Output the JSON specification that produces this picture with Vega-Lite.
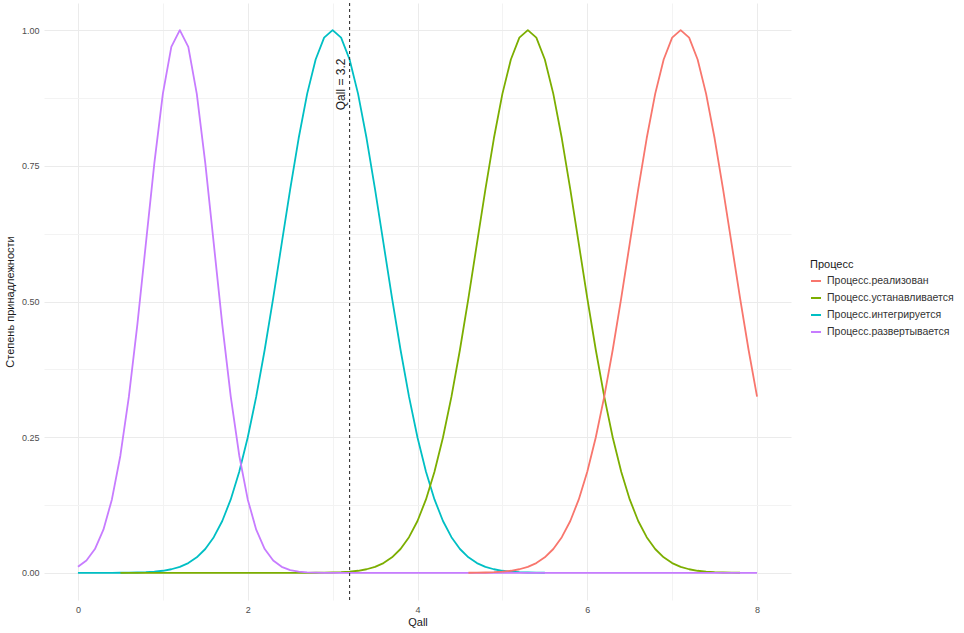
{
  "$schema": "https://vega.github.io/schema/vega-lite/v6.json",
  "width": 747,
  "height": 597,
  "autosize": {"type": "none"},
  "padding": {"left": 44, "top": 3, "right": 173, "bottom": 33},
  "background": "white",
  "config": {
    "view": {"stroke": null},
    "font": "Liberation Sans",
    "axis": {
      "ticks": false,
      "domain": false,
      "labelFontSize": 9,
      "labelColor": "#4D4D4D",
      "titleFontSize": 11,
      "titleFontWeight": "normal",
      "titleColor": "#1a1a1a"
    }
  },
  "datasets": {
    "curves": [
      {"s":"Процесс.интегрируется","x":0,"y":0},
      {"s":"Процесс.интегрируется","x":0.1,"y":0.00001},
      {"s":"Процесс.интегрируется","x":0.2,"y":0.00002},
      {"s":"Процесс.интегрируется","x":0.3,"y":0.00004},
      {"s":"Процесс.интегрируется","x":0.4,"y":0.00008},
      {"s":"Процесс.интегрируется","x":0.5,"y":0.00017},
      {"s":"Процесс.интегрируется","x":0.6,"y":0.00034},
      {"s":"Процесс.интегрируется","x":0.7,"y":0.00064},
      {"s":"Процесс.интегрируется","x":0.8,"y":0.0012},
      {"s":"Процесс.интегрируется","x":0.9,"y":0.00219},
      {"s":"Процесс.интегрируется","x":1.0,"y":0.00387},
      {"s":"Процесс.интегрируется","x":1.1,"y":0.00665},
      {"s":"Процесс.интегрируется","x":1.2,"y":0.01111},
      {"s":"Процесс.интегрируется","x":1.3,"y":0.01807},
      {"s":"Процесс.интегрируется","x":1.4,"y":0.02857},
      {"s":"Процесс.интегрируется","x":1.5,"y":0.04394},
      {"s":"Процесс.интегрируется","x":1.6,"y":0.06571},
      {"s":"Процесс.интегрируется","x":1.7,"y":0.09563},
      {"s":"Процесс.интегрируется","x":1.8,"y":0.13534},
      {"s":"Процесс.интегрируется","x":1.9,"y":0.18628},
      {"s":"Процесс.интегрируется","x":2.0,"y":0.24935},
      {"s":"Процесс.интегрируется","x":2.1,"y":0.32465},
      {"s":"Процесс.интегрируется","x":2.2,"y":0.41111},
      {"s":"Процесс.интегрируется","x":2.3,"y":0.50633},
      {"s":"Процесс.интегрируется","x":2.4,"y":0.60653},
      {"s":"Процесс.интегрируется","x":2.5,"y":0.70664},
      {"s":"Процесс.интегрируется","x":2.6,"y":0.80074},
      {"s":"Процесс.интегрируется","x":2.7,"y":0.8825},
      {"s":"Процесс.интегрируется","x":2.8,"y":0.94596},
      {"s":"Процесс.интегрируется","x":2.9,"y":0.98621},
      {"s":"Процесс.интегрируется","x":3.0,"y":1},
      {"s":"Процесс.интегрируется","x":3.1,"y":0.98621},
      {"s":"Процесс.интегрируется","x":3.2,"y":0.94596},
      {"s":"Процесс.интегрируется","x":3.3,"y":0.8825},
      {"s":"Процесс.интегрируется","x":3.4,"y":0.80074},
      {"s":"Процесс.интегрируется","x":3.5,"y":0.70664},
      {"s":"Процесс.интегрируется","x":3.6,"y":0.60653},
      {"s":"Процесс.интегрируется","x":3.7,"y":0.50633},
      {"s":"Процесс.интегрируется","x":3.8,"y":0.41111},
      {"s":"Процесс.интегрируется","x":3.9,"y":0.32465},
      {"s":"Процесс.интегрируется","x":4.0,"y":0.24935},
      {"s":"Процесс.интегрируется","x":4.1,"y":0.18628},
      {"s":"Процесс.интегрируется","x":4.2,"y":0.13534},
      {"s":"Процесс.интегрируется","x":4.3,"y":0.09563},
      {"s":"Процесс.интегрируется","x":4.4,"y":0.06571},
      {"s":"Процесс.интегрируется","x":4.5,"y":0.04394},
      {"s":"Процесс.интегрируется","x":4.6,"y":0.02857},
      {"s":"Процесс.интегрируется","x":4.7,"y":0.01807},
      {"s":"Процесс.интегрируется","x":4.8,"y":0.01111},
      {"s":"Процесс.интегрируется","x":4.9,"y":0.00665},
      {"s":"Процесс.интегрируется","x":5.0,"y":0.00387},
      {"s":"Процесс.интегрируется","x":5.1,"y":0.00219},
      {"s":"Процесс.интегрируется","x":5.2,"y":0.0012},
      {"s":"Процесс.интегрируется","x":5.3,"y":0.00064},
      {"s":"Процесс.интегрируется","x":5.4,"y":0.00034},
      {"s":"Процесс.интегрируется","x":5.5,"y":0.00017},

      {"s":"Процесс.устанавливается","x":0.5,"y":0},
      {"s":"Процесс.устанавливается","x":0.6,"y":0},
      {"s":"Процесс.устанавливается","x":0.7,"y":0},
      {"s":"Процесс.устанавливается","x":0.8,"y":0},
      {"s":"Процесс.устанавливается","x":0.9,"y":0},
      {"s":"Процесс.устанавливается","x":1.0,"y":0},
      {"s":"Процесс.устанавливается","x":1.1,"y":0},
      {"s":"Процесс.устанавливается","x":1.2,"y":0},
      {"s":"Процесс.устанавливается","x":1.3,"y":0},
      {"s":"Процесс.устанавливается","x":1.4,"y":0},
      {"s":"Процесс.устанавливается","x":1.5,"y":0},
      {"s":"Процесс.устанавливается","x":1.6,"y":0},
      {"s":"Процесс.устанавливается","x":1.7,"y":0},
      {"s":"Процесс.устанавливается","x":1.8,"y":0},
      {"s":"Процесс.устанавливается","x":1.9,"y":0},
      {"s":"Процесс.устанавливается","x":2.0,"y":0},
      {"s":"Процесс.устанавливается","x":2.1,"y":0},
      {"s":"Процесс.устанавливается","x":2.2,"y":0},
      {"s":"Процесс.устанавливается","x":2.3,"y":0},
      {"s":"Процесс.устанавливается","x":2.4,"y":0},
      {"s":"Процесс.устанавливается","x":2.5,"y":0.00002},
      {"s":"Процесс.устанавливается","x":2.6,"y":0.00004},
      {"s":"Процесс.устанавливается","x":2.7,"y":0.00008},
      {"s":"Процесс.устанавливается","x":2.8,"y":0.00017},
      {"s":"Процесс.устанавливается","x":2.9,"y":0.00034},
      {"s":"Процесс.устанавливается","x":3.0,"y":0.00064},
      {"s":"Процесс.устанавливается","x":3.1,"y":0.0012},
      {"s":"Процесс.устанавливается","x":3.2,"y":0.00219},
      {"s":"Процесс.устанавливается","x":3.3,"y":0.00387},
      {"s":"Процесс.устанавливается","x":3.4,"y":0.00665},
      {"s":"Процесс.устанавливается","x":3.5,"y":0.01111},
      {"s":"Процесс.устанавливается","x":3.6,"y":0.01807},
      {"s":"Процесс.устанавливается","x":3.7,"y":0.02857},
      {"s":"Процесс.устанавливается","x":3.8,"y":0.04394},
      {"s":"Процесс.устанавливается","x":3.9,"y":0.06571},
      {"s":"Процесс.устанавливается","x":4.0,"y":0.09563},
      {"s":"Процесс.устанавливается","x":4.1,"y":0.13534},
      {"s":"Процесс.устанавливается","x":4.2,"y":0.18628},
      {"s":"Процесс.устанавливается","x":4.3,"y":0.24935},
      {"s":"Процесс.устанавливается","x":4.4,"y":0.32465},
      {"s":"Процесс.устанавливается","x":4.5,"y":0.41111},
      {"s":"Процесс.устанавливается","x":4.6,"y":0.50633},
      {"s":"Процесс.устанавливается","x":4.7,"y":0.60653},
      {"s":"Процесс.устанавливается","x":4.8,"y":0.70664},
      {"s":"Процесс.устанавливается","x":4.9,"y":0.80074},
      {"s":"Процесс.устанавливается","x":5.0,"y":0.8825},
      {"s":"Процесс.устанавливается","x":5.1,"y":0.94596},
      {"s":"Процесс.устанавливается","x":5.2,"y":0.98621},
      {"s":"Процесс.устанавливается","x":5.3,"y":1},
      {"s":"Процесс.устанавливается","x":5.4,"y":0.98621},
      {"s":"Процесс.устанавливается","x":5.5,"y":0.94596},
      {"s":"Процесс.устанавливается","x":5.6,"y":0.8825},
      {"s":"Процесс.устанавливается","x":5.7,"y":0.80074},
      {"s":"Процесс.устанавливается","x":5.8,"y":0.70664},
      {"s":"Процесс.устанавливается","x":5.9,"y":0.60653},
      {"s":"Процесс.устанавливается","x":6.0,"y":0.50633},
      {"s":"Процесс.устанавливается","x":6.1,"y":0.41111},
      {"s":"Процесс.устанавливается","x":6.2,"y":0.32465},
      {"s":"Процесс.устанавливается","x":6.3,"y":0.24935},
      {"s":"Процесс.устанавливается","x":6.4,"y":0.18628},
      {"s":"Процесс.устанавливается","x":6.5,"y":0.13534},
      {"s":"Процесс.устанавливается","x":6.6,"y":0.09563},
      {"s":"Процесс.устанавливается","x":6.7,"y":0.06571},
      {"s":"Процесс.устанавливается","x":6.8,"y":0.04394},
      {"s":"Процесс.устанавливается","x":6.9,"y":0.02857},
      {"s":"Процесс.устанавливается","x":7.0,"y":0.01807},
      {"s":"Процесс.устанавливается","x":7.1,"y":0.01111},
      {"s":"Процесс.устанавливается","x":7.2,"y":0.00665},
      {"s":"Процесс.устанавливается","x":7.3,"y":0.00387},
      {"s":"Процесс.устанавливается","x":7.4,"y":0.00219},
      {"s":"Процесс.устанавливается","x":7.5,"y":0.0012},
      {"s":"Процесс.устанавливается","x":7.6,"y":0.00064},
      {"s":"Процесс.устанавливается","x":7.7,"y":0.00034},
      {"s":"Процесс.устанавливается","x":7.8,"y":0.00017},

      {"s":"Процесс.развертывается","x":0,"y":0.01111},
      {"s":"Процесс.развертывается","x":0.1,"y":0.02279},
      {"s":"Процесс.развертывается","x":0.2,"y":0.04394},
      {"s":"Процесс.развертывается","x":0.3,"y":0.07956},
      {"s":"Процесс.развертывается","x":0.4,"y":0.13534},
      {"s":"Процесс.развертывается","x":0.5,"y":0.21627},
      {"s":"Процесс.развертывается","x":0.6,"y":0.32465},
      {"s":"Процесс.развертывается","x":0.7,"y":0.45783},
      {"s":"Процесс.развертывается","x":0.8,"y":0.60653},
      {"s":"Процесс.развертывается","x":0.9,"y":0.75484},
      {"s":"Процесс.развертывается","x":1.0,"y":0.8825},
      {"s":"Процесс.развертывается","x":1.1,"y":0.96923},
      {"s":"Процесс.развертывается","x":1.2,"y":1},
      {"s":"Процесс.развертывается","x":1.3,"y":0.96923},
      {"s":"Процесс.развертывается","x":1.4,"y":0.8825},
      {"s":"Процесс.развертывается","x":1.5,"y":0.75484},
      {"s":"Процесс.развертывается","x":1.6,"y":0.60653},
      {"s":"Процесс.развертывается","x":1.7,"y":0.45783},
      {"s":"Процесс.развертывается","x":1.8,"y":0.32465},
      {"s":"Процесс.развертывается","x":1.9,"y":0.21627},
      {"s":"Процесс.развертывается","x":2.0,"y":0.13534},
      {"s":"Процесс.развертывается","x":2.1,"y":0.07956},
      {"s":"Процесс.развертывается","x":2.2,"y":0.04394},
      {"s":"Процесс.развертывается","x":2.3,"y":0.02279},
      {"s":"Процесс.развертывается","x":2.4,"y":0.01111},
      {"s":"Процесс.развертывается","x":2.5,"y":0.00509},
      {"s":"Процесс.развертывается","x":2.6,"y":0.00219},
      {"s":"Процесс.развертывается","x":2.7,"y":0.00088},
      {"s":"Процесс.развертывается","x":2.8,"y":0.00034},
      {"s":"Процесс.развертывается","x":2.9,"y":0.00012},
      {"s":"Процесс.развертывается","x":3.0,"y":0.00004},
      {"s":"Процесс.развертывается","x":3.1,"y":0.00001},
      {"s":"Процесс.развертывается","x":3.2,"y":0},
      {"s":"Процесс.развертывается","x":3.3,"y":0},
      {"s":"Процесс.развертывается","x":3.4,"y":0},
      {"s":"Процесс.развертывается","x":3.5,"y":0},
      {"s":"Процесс.развертывается","x":3.6,"y":0},
      {"s":"Процесс.развертывается","x":3.7,"y":0},
      {"s":"Процесс.развертывается","x":3.8,"y":0},
      {"s":"Процесс.развертывается","x":3.9,"y":0},
      {"s":"Процесс.развертывается","x":4.0,"y":0},
      {"s":"Процесс.развертывается","x":4.1,"y":0},
      {"s":"Процесс.развертывается","x":4.2,"y":0},
      {"s":"Процесс.развертывается","x":4.3,"y":0},
      {"s":"Процесс.развертывается","x":4.4,"y":0},
      {"s":"Процесс.развертывается","x":4.5,"y":0},
      {"s":"Процесс.развертывается","x":4.6,"y":0},
      {"s":"Процесс.развертывается","x":4.7,"y":0},
      {"s":"Процесс.развертывается","x":4.8,"y":0},
      {"s":"Процесс.развертывается","x":4.9,"y":0},
      {"s":"Процесс.развертывается","x":5.0,"y":0},
      {"s":"Процесс.развертывается","x":5.1,"y":0},
      {"s":"Процесс.развертывается","x":5.2,"y":0},
      {"s":"Процесс.развертывается","x":5.3,"y":0},
      {"s":"Процесс.развертывается","x":5.4,"y":0},
      {"s":"Процесс.развертывается","x":5.5,"y":0},
      {"s":"Процесс.развертывается","x":5.6,"y":0},
      {"s":"Процесс.развертывается","x":5.7,"y":0},
      {"s":"Процесс.развертывается","x":5.8,"y":0},
      {"s":"Процесс.развертывается","x":5.9,"y":0},
      {"s":"Процесс.развертывается","x":6.0,"y":0},
      {"s":"Процесс.развертывается","x":6.1,"y":0},
      {"s":"Процесс.развертывается","x":6.2,"y":0},
      {"s":"Процесс.развертывается","x":6.3,"y":0},
      {"s":"Процесс.развертывается","x":6.4,"y":0},
      {"s":"Процесс.развертывается","x":6.5,"y":0},
      {"s":"Процесс.развертывается","x":6.6,"y":0},
      {"s":"Процесс.развертывается","x":6.7,"y":0},
      {"s":"Процесс.развертывается","x":6.8,"y":0},
      {"s":"Процесс.развертывается","x":6.9,"y":0},
      {"s":"Процесс.развертывается","x":7.0,"y":0},
      {"s":"Процесс.развертывается","x":7.1,"y":0},
      {"s":"Процесс.развертывается","x":7.2,"y":0},
      {"s":"Процесс.развертывается","x":7.3,"y":0},
      {"s":"Процесс.развертывается","x":7.4,"y":0},
      {"s":"Процесс.развертывается","x":7.5,"y":0},
      {"s":"Процесс.развертывается","x":7.6,"y":0},
      {"s":"Процесс.развертывается","x":7.7,"y":0},
      {"s":"Процесс.развертывается","x":7.8,"y":0},
      {"s":"Процесс.развертывается","x":7.9,"y":0},
      {"s":"Процесс.развертывается","x":8.0,"y":0},

      {"s":"Процесс.реализован","x":4.6,"y":0.00017},
      {"s":"Процесс.реализован","x":4.7,"y":0.00034},
      {"s":"Процесс.реализован","x":4.8,"y":0.00064},
      {"s":"Процесс.реализован","x":4.9,"y":0.0012},
      {"s":"Процесс.реализован","x":5.0,"y":0.00219},
      {"s":"Процесс.реализован","x":5.1,"y":0.00387},
      {"s":"Процесс.реализован","x":5.2,"y":0.00665},
      {"s":"Процесс.реализован","x":5.3,"y":0.01111},
      {"s":"Процесс.реализован","x":5.4,"y":0.01807},
      {"s":"Процесс.реализован","x":5.5,"y":0.02857},
      {"s":"Процесс.реализован","x":5.6,"y":0.04394},
      {"s":"Процесс.реализован","x":5.7,"y":0.06571},
      {"s":"Процесс.реализован","x":5.8,"y":0.09563},
      {"s":"Процесс.реализован","x":5.9,"y":0.13534},
      {"s":"Процесс.реализован","x":6.0,"y":0.18628},
      {"s":"Процесс.реализован","x":6.1,"y":0.24935},
      {"s":"Процесс.реализован","x":6.2,"y":0.32465},
      {"s":"Процесс.реализован","x":6.3,"y":0.41111},
      {"s":"Процесс.реализован","x":6.4,"y":0.50633},
      {"s":"Процесс.реализован","x":6.5,"y":0.60653},
      {"s":"Процесс.реализован","x":6.6,"y":0.70664},
      {"s":"Процесс.реализован","x":6.7,"y":0.80074},
      {"s":"Процесс.реализован","x":6.8,"y":0.8825},
      {"s":"Процесс.реализован","x":6.9,"y":0.94596},
      {"s":"Процесс.реализован","x":7.0,"y":0.98621},
      {"s":"Процесс.реализован","x":7.1,"y":1},
      {"s":"Процесс.реализован","x":7.2,"y":0.98621},
      {"s":"Процесс.реализован","x":7.3,"y":0.94596},
      {"s":"Процесс.реализован","x":7.4,"y":0.8825},
      {"s":"Процесс.реализован","x":7.5,"y":0.80074},
      {"s":"Процесс.реализован","x":7.6,"y":0.70664},
      {"s":"Процесс.реализован","x":7.7,"y":0.60653},
      {"s":"Процесс.реализован","x":7.8,"y":0.50633},
      {"s":"Процесс.реализован","x":7.9,"y":0.41111},
      {"s":"Процесс.реализован","x":8.0,"y":0.32465}
    ],
    "marker": [{"q": 3.2, "m": 0.9, "label": "Qall = 3.2"}]
  },
  "layer": [
    {
      "data": {"name": "curves"},
      "mark": {"type": "line", "strokeWidth": 1.8, "strokeJoin": "round"},
      "encoding": {
        "x": {
          "field": "x", "type": "quantitative", "title": "Qall",
          "scale": {"domain": [-0.4, 8.4], "nice": false, "zero": false},
          "axis": {
            "values": [0, 1, 2, 3, 4, 5, 6, 7, 8],
            "format": "d",
            "labelExpr": "datum.value % 2 === 0 ? datum.label : ''",
            "gridColor": {"condition": {"test": "datum.value % 2 === 0", "value": "#EBEBEB"}, "value": "#F3F3F3"},
            "labelPadding": 5,
            "titlePadding": 2
          }
        },
        "y": {
          "field": "y", "type": "quantitative", "title": "Степень принадлежности",
          "scale": {"domain": [-0.05, 1.05], "nice": false, "zero": false},
          "axis": {
            "values": [0, 0.125, 0.25, 0.375, 0.5, 0.625, 0.75, 0.875, 1],
            "format": ".2f",
            "labelExpr": "datum.value % 0.25 === 0 ? datum.label : ''",
            "gridColor": {"condition": {"test": "datum.value % 0.25 === 0", "value": "#EBEBEB"}, "value": "#F3F3F3"},
            "labelPadding": 5,
            "titlePadding": 6
          }
        },
        "color": {
          "field": "s", "type": "nominal", "title": "Процесс",
          "scale": {
            "domain": ["Процесс.реализован", "Процесс.устанавливается", "Процесс.интегрируется", "Процесс.развертывается"],
            "range": ["#F8766D", "#7CAE00", "#00BFC4", "#C77CFF"]
          },
          "legend": {
            "orient": "none",
            "legendX": 766,
            "legendY": 256,
            "titleFontSize": 11,
            "titleFontWeight": "normal",
            "titleColor": "#1a1a1a",
            "titlePadding": 5,
            "labelFontSize": 10.5,
            "labelColor": "#333333",
            "symbolType": "stroke",
            "symbolStrokeWidth": 2,
            "symbolSize": 100,
            "rowPadding": 5,
            "labelOffset": 5
          }
        }
      }
    },
    {
      "data": {"name": "marker"},
      "mark": {"type": "rule", "strokeDash": [3, 3], "color": "#333333", "strokeWidth": 1.1},
      "encoding": {
        "x": {"field": "q", "type": "quantitative", "title": "Qall"}
      }
    },
    {
      "data": {"name": "marker"},
      "mark": {"type": "text", "angle": 270, "align": "center", "baseline": "bottom", "dy": -2, "fontSize": 12, "color": "#1a1a1a"},
      "encoding": {
        "x": {"field": "q", "type": "quantitative", "title": "Qall"},
        "y": {"field": "m", "type": "quantitative", "title": "Степень принадлежности"},
        "text": {"field": "label"}
      }
    }
  ]
}
